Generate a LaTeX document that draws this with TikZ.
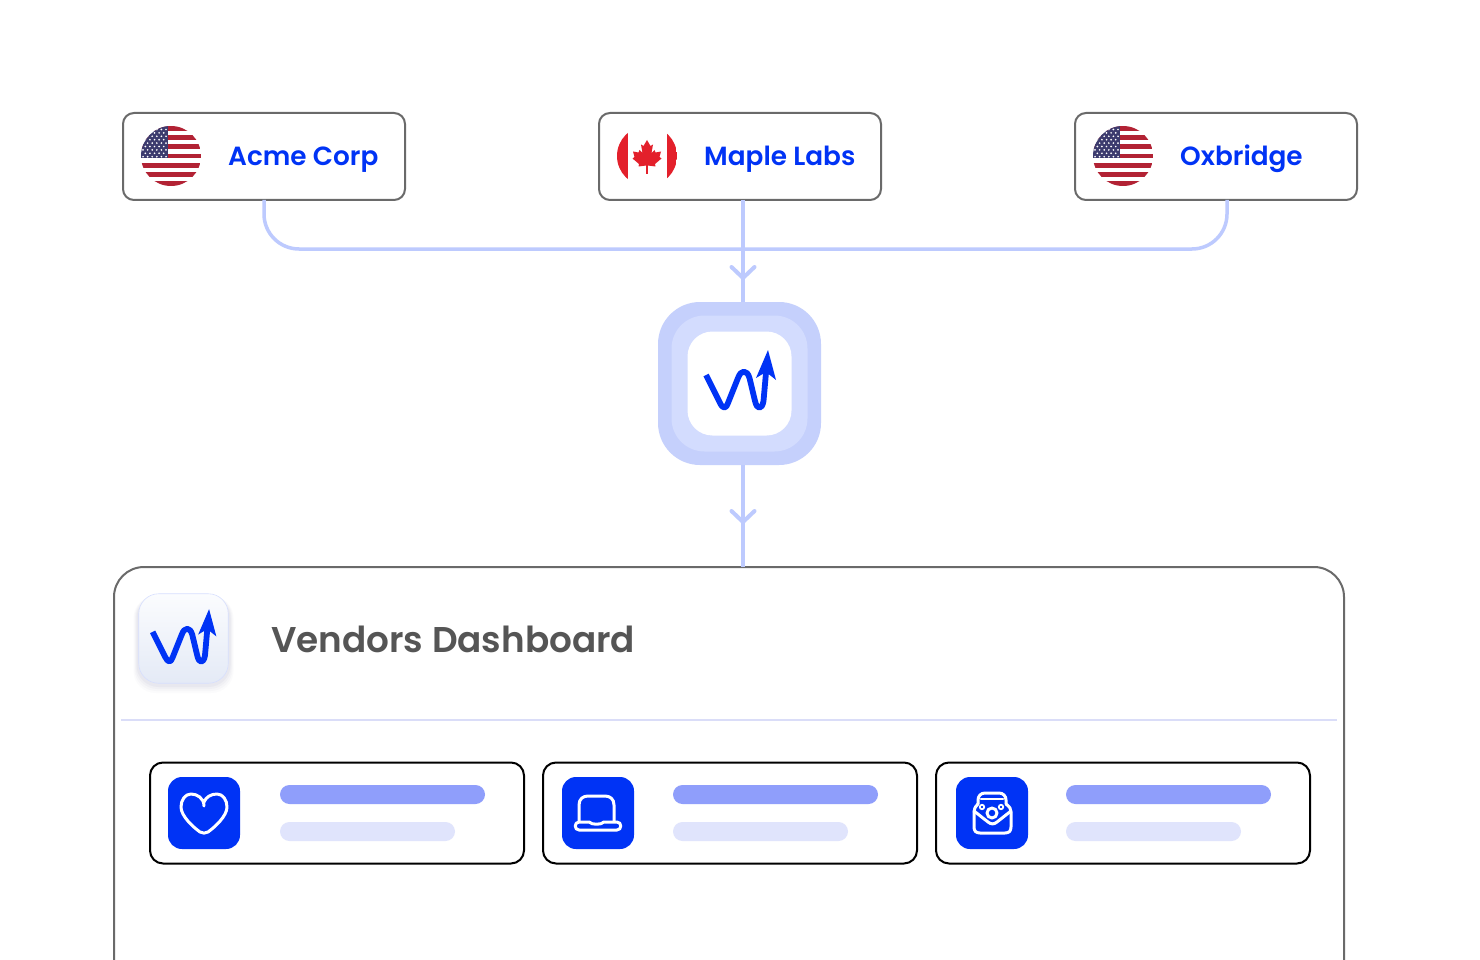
\documentclass[tikz,border=0pt]{standalone}
\usepackage{fontspec}
\setmainfont{Poppins}[UprightFont={* Medium},BoldFont={* SemiBold}]
\usetikzlibrary{calc}
\definecolor{linkc}{HTML}{BDCAFE}
\definecolor{hubout}{HTML}{C5D0FC}
\definecolor{hubmid}{HTML}{D3DCFE}
\definecolor{brand}{HTML}{0033F5}
\definecolor{edgegrey}{HTML}{6A6A6A}
\definecolor{titlegrey}{HTML}{555555}
\definecolor{barstrong}{HTML}{8F9EFB}
\definecolor{barsoft}{HTML}{E0E4FC}
\definecolor{rule}{HTML}{DADDF8}
\definecolor{flagred}{HTML}{B22234}
\definecolor{flagblue}{HTML}{3C3B6E}
\definecolor{leafred}{HTML}{E3202B}
\definecolor{tiletop}{HTML}{FBFCFE}
\definecolor{tilebot}{HTML}{E4EAF6}
\tikzset{
  x=1pt,y=-1pt,
  vendorbox/.style={draw=edgegrey,line width=2pt,fill=white,rounded corners=11pt,minimum width=282pt,minimum height=87pt,anchor=north west,inner sep=0pt,outer sep=0pt},
  vendortext/.style={text=brand,font=\bfseries\fontsize{26.3}{30}\selectfont,anchor=base west,inner sep=0pt},
  link/.style={draw=linkc,line width=3.5pt},
  chev/.style={draw=linkc,line width=4pt,line cap=round,line join=round},
  card/.style={draw=black,line width=2pt,fill=white,rounded corners=13pt,minimum width=374pt,minimum height=101pt,anchor=north west,inner sep=0pt,outer sep=0pt},
  iconbox/.style={fill=brand,rounded corners=14pt,minimum width=72pt,minimum height=72pt,anchor=north west,inner sep=0pt,outer sep=0pt},
  barA/.style={fill=barstrong,rounded corners=9.5pt,minimum width=205pt,minimum height=19pt,anchor=north west,inner sep=0pt,outer sep=0pt},
  barB/.style={fill=barsoft,rounded corners=9.5pt,minimum width=175pt,minimum height=19pt,anchor=north west,inner sep=0pt,outer sep=0pt},
  glyph/.style={draw=white,line width=3pt,line cap=round,line join=round},
  pics/logo/.style={code={
    \draw[brand,line width=5.8pt,line join=round,line cap=butt]
      (-35,-4) -- (-21,24) .. controls (-18,30) and (-15,30) .. (-13,24) -- (-3,-1)
      .. controls (0,-9.5) and (6,-9.5) .. (8.5,-1) -- (14,22)
      .. controls (16,31) and (21,31) .. (22.5,22) -- (25.5,-12);
    \fill[brand] (27,-29) -- (35,1) -- (25,-7) -- (15,-1) -- cycle;
  }},
  pics/usflag/.style={code={
    \begin{scope}
      \clip (0,0) circle (30);
      \fill[white] (-30,-30) rectangle (30,30);
      \foreach \k in {0,2,...,12} \fill[flagred] (-30,{-30+\k*60/13}) rectangle (30,{-30+(\k+1)*60/13});
      \fill[flagblue] (-30,-30) rectangle (-3,2.3);
      \foreach \r in {0,...,4} \foreach \c in {0,...,5}
        \fill[white] ({-28+\c*4.6},{-26.5+\r*6.8}) circle (0.95);
      \foreach \r in {0,...,3} \foreach \c in {0,...,4}
        \fill[white] ({-25.7+\c*4.6},{-23.1+\r*6.8}) circle (0.95);
    \end{scope}
  }},
  pics/caflag/.style={code={
    \begin{scope}
      \clip (0,0) circle (30);
      \fill[leafred] (-30,-30) rectangle (-19.5,30);
      \fill[leafred] (20,-30) rectangle (30,30);
    \end{scope}
    \fill[leafred] (0,-16) -- (3.5,-10) -- (6,-11.5) -- (4.5,-3) -- (7.5,-6) -- (8.5,-3.5) -- (14,-4.5) -- (12.5,1) -- (14.5,2.5) -- (8,8) -- (8.5,10.5) -- (0.8,9.5) -- (0.8,18) -- (-0.8,18) -- (-0.8,9.5) -- (-8.5,10.5) -- (-8,8) -- (-14.5,2.5) -- (-12.5,1) -- (-14,-4.5) -- (-8.5,-3.5) -- (-7.5,-6) -- (-4.5,-3) -- (-6,-11.5) -- (-3.5,-10) -- cycle;
  }},
}
\begin{document}
\begin{tikzpicture}
\useasboundingbox (0,0) rectangle (1480,960);
\clip (0,0) rectangle (1480,960);
\fill[white] (0,0) rectangle (1480,960);

% vendor boxes
\node[vendorbox] (acme) at (123,113) {};
\node[vendorbox] (maple) at (599,113) {};
\node[vendorbox] (oxb) at (1075,113) {};
\pic at (171,156) {usflag};
\pic at (647,156) {caflag};
\pic at (1123,156) {usflag};
\node[vendortext] (acmet) at (228,165.5) {Acme Corp};
\node[vendortext] (maplet) at (704,165.5) {Maple Labs};
\node[vendortext] (oxbt) at (1180,165.5) {Oxbridge};

% hub
\node[fill=hubout,rounded corners=42pt,minimum size=163pt,inner sep=0pt,outer sep=0pt] (hub) at (739.5,383.5) {};
\node[fill=hubmid,rounded corners=33pt,minimum size=136pt,inner sep=0pt,outer sep=0pt] (hubm) at (hub.center) {};
\node[fill=white,rounded corners=25pt,minimum size=104pt,inner sep=0pt,outer sep=0pt] (hubi) at (hub.center) {};
\pic at (741,379) {logo};

% dashboard frame
\node[draw=edgegrey,line width=2pt,fill=white,rounded corners=30pt,minimum width=1230pt,minimum height=500pt,anchor=north west,inner sep=0pt,outer sep=0pt] (dash) at (114,567) {};
\draw[rule,line width=2pt] (121,720) -- (1337,720);

% connectors
\coordinate (junc) at (743,249);
\draw[link,rounded corners=35pt] ($(acme.south)+(0,0)$) |- (junc);
\draw[link,rounded corners=35pt] ($(oxb.south)+(11,0)$) |- (junc);
\draw[link] (maple.south -| junc) -- (hub.north -| junc);
\draw[link] (hub.south -| junc) -- (dash.north -| junc);
\coordinate (tipa) at (743,278);
\coordinate (tipb) at (743,522);
\draw[chev] ($(tipa)+(-11.5,-11)$) -- (tipa) -- ($(tipa)+(11.5,-11)$);
\draw[chev] ($(tipb)+(-11.5,-11)$) -- (tipb) -- ($(tipb)+(11.5,-11)$);

% dashboard header
\foreach \s/\o in {9/0.025,7/0.03,5/0.04,3/0.05}
  \fill[black!70!blue!60!white,opacity=\o,rounded corners=22pt] (138-\s/2,593+3) rectangle (229+\s/2,684+\s);
\node[draw=linkc!60!white,line width=0.6pt,top color=tiletop,bottom color=tilebot,rounded corners=20pt,minimum size=89.5pt,inner sep=0pt,outer sep=0pt] (tile) at (183.5,638.5) {};
\pic[scale=0.91] at (184.5,635.5) {logo};
\node[text=titlegrey,font=\bfseries\fontsize{35.8}{40}\selectfont,anchor=base west,inner sep=0pt] (title) at (271,652) {Vendors Dashboard};

% cards
\node[card] (c1) at (150,762.5) {};
\node[card] (c2) at (543,762.5) {};
\node[card] (c3) at (936,762.5) {};
\node[iconbox] (i1) at (168,777) {};
\node[iconbox] (i2) at (562,777) {};
\node[iconbox] (i3) at (956,777) {};
\node[barA] (a1) at (280,785) {};
\node[barB] (b1) at (280,822) {};
\node[barA] (a2) at (673,785) {};
\node[barB] (b2) at (673,822) {};
\node[barA] (a3) at (1066,785) {};
\node[barB] (b3) at (1066,822) {};

% heart
\draw[glyph] (204,806) .. controls (204,798) and (197,794) .. (191,794)
  .. controls (185,794) and (181,800) .. (181,807)
  .. controls (181,816) and (193,827) .. (200,832)
  .. controls (203,833.5) and (205,833.5) .. (208,832)
  .. controls (215,827) and (227,816) .. (227,807)
  .. controls (227,800) and (223,794) .. (217,794)
  .. controls (211,794) and (206,797) .. (204,802);

% laptop
\draw[glyph] (579,821) -- (579,805) .. controls (579,799) and (583,796) .. (588,796) -- (605,796)
  .. controls (610,796) and (614,799) .. (614,805) -- (614,821);
\draw[glyph] (579,822) -- (589,822) .. controls (592,825) and (601,825) .. (604,822) -- (617,822)
  .. controls (622,822) and (622,830) .. (617,830) -- (579,830) .. controls (574,830) and (574,822) .. (579,822) -- cycle;

% bag
\draw[glyph] (978,804) -- (978,800) .. controls (978,796) and (981,793) .. (985,793) -- (999,793)
  .. controls (1003,793) and (1006,796) .. (1006,800) -- (1006,804);
\draw[glyph,line width=2.4pt] (981,799) -- (1003,799);
\draw[glyph] (974,812) .. controls (974,809) and (975,807) .. (978,804);
\draw[glyph] (1011,812) .. controls (1011,809) and (1010,807) .. (1006,804);
\draw[glyph] (974,812) -- (974,827) .. controls (974,831) and (976,833) .. (980,833) -- (1005,833)
  .. controls (1009,833) and (1011,831) .. (1011,827) -- (1011,812);
\draw[glyph] (974,811) -- (988,822) .. controls (991,824.5) and (994,824.5) .. (997,822) -- (1011,811);
\draw[glyph] (992,813) circle (5);
\draw[glyph,line width=1.8pt] (982,807) circle (2.2);
\draw[glyph,line width=1.8pt] (1001,807) circle (2.2);
\end{tikzpicture}
\end{document}
